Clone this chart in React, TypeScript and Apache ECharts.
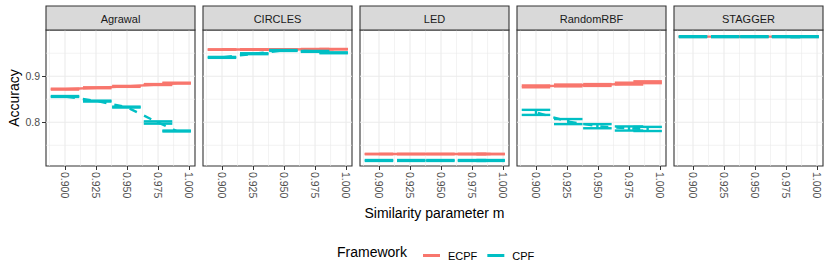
import React, { useEffect, useRef } from "react";
import * as echarts from "echarts";

// ---- data ----
const datasets = ["Agrawal", "CIRCLES", "LED", "RandomRBF", "STAGGER"];
const frameworks = ["ECPF", "CPF"];
const mValues = [0.9, 0.926, 0.9495, 0.975, 0.99];

// mean / lower / upper accuracy per m value
const agrawalEcpfMean = [0.872, 0.875, 0.878, 0.882, 0.885];
const agrawalEcpfLo = [0.871, 0.874, 0.877, 0.881, 0.884];
const agrawalEcpfHi = [0.873, 0.876, 0.879, 0.883, 0.886];
const agrawalCpfMean = [0.856, 0.846, 0.833, 0.7995, 0.781];
const agrawalCpfLo = [0.855, 0.845, 0.832, 0.797, 0.78];
const agrawalCpfHi = [0.857, 0.847, 0.834, 0.802, 0.782];

const circlesEcpfMean = [0.958, 0.958, 0.958, 0.9588, 0.9588];
const circlesEcpfLo = [0.9575, 0.9575, 0.9575, 0.9583, 0.9583];
const circlesEcpfHi = [0.9585, 0.9585, 0.9585, 0.9593, 0.9593];
const circlesCpfMean = [0.941, 0.949, 0.956, 0.954, 0.951];
const circlesCpfLo = [0.94, 0.948, 0.955, 0.953, 0.95];
const circlesCpfHi = [0.942, 0.95, 0.957, 0.955, 0.952];

const ledEcpfMean = [0.731, 0.731, 0.731, 0.731, 0.731];
const ledEcpfLo = [0.7305, 0.7305, 0.7305, 0.7305, 0.7305];
const ledEcpfHi = [0.7315, 0.7315, 0.7315, 0.7315, 0.7315];
const ledCpfMean = [0.717, 0.717, 0.717, 0.717, 0.717];
const ledCpfLo = [0.716, 0.716, 0.716, 0.716, 0.716];
const ledCpfHi = [0.718, 0.718, 0.718, 0.718, 0.718];

const rbfEcpfMean = [0.878, 0.88, 0.881, 0.884, 0.887];
const rbfEcpfLo = [0.876, 0.878, 0.879, 0.882, 0.885];
const rbfEcpfHi = [0.88, 0.882, 0.883, 0.886, 0.889];
const rbfCpfMean = [0.8215, 0.8015, 0.7915, 0.7865, 0.7855];
const rbfCpfLo = [0.816, 0.796, 0.787, 0.782, 0.781];
const rbfCpfHi = [0.827, 0.807, 0.796, 0.791, 0.79];

const staggerEcpfMean = [0.986, 0.986, 0.986, 0.986, 0.986];
const staggerEcpfLo = [0.9855, 0.9855, 0.9855, 0.9855, 0.9855];
const staggerEcpfHi = [0.9865, 0.9865, 0.9865, 0.9865, 0.9865];
const staggerCpfMean = [0.986, 0.986, 0.986, 0.986, 0.986];
const staggerCpfLo = [0.985, 0.985, 0.985, 0.985, 0.985];
const staggerCpfHi = [0.987, 0.987, 0.987, 0.987, 0.987];

const seriesMean = [
  [agrawalEcpfMean, agrawalCpfMean],
  [circlesEcpfMean, circlesCpfMean],
  [ledEcpfMean, ledCpfMean],
  [rbfEcpfMean, rbfCpfMean],
  [staggerEcpfMean, staggerCpfMean],
];
const seriesLo = [
  [agrawalEcpfLo, agrawalCpfLo],
  [circlesEcpfLo, circlesCpfLo],
  [ledEcpfLo, ledCpfLo],
  [rbfEcpfLo, rbfCpfLo],
  [staggerEcpfLo, staggerCpfLo],
];
const seriesHi = [
  [agrawalEcpfHi, agrawalCpfHi],
  [circlesEcpfHi, circlesCpfHi],
  [ledEcpfHi, ledCpfHi],
  [rbfEcpfHi, rbfCpfHi],
  [staggerEcpfHi, staggerCpfHi],
];

const xTicks = [0.9, 0.925, 0.95, 0.975, 1.0];
const xMinorBreaks = [0.8875, 0.9125, 0.9375, 0.9625, 0.9875];
const yTicks = [0.8, 0.9];
const yMinorBreaks = [0.75, 0.85, 0.95];

// ---- style ----
const colors = ["#F8766D", "#00BFC4"];
const lineDash: any[] = ["solid", [8, 8]];
const FONT = "Liberation Sans, Arial, Helvetica, sans-serif";
const PANEL_LEFT = 46;
const PANEL_STEP = 157;
const PANEL_W = 149;
const PANEL_TOP = 30;
const PANEL_H = 136;
const HALF_W = 0.0115;
const X_MIN = 0.8847;
const X_MAX = 1.0048;
const Y_MIN = 0.705;
const Y_MAX = 1.0005;
const LW = 2.4;

export default function App() {
  const ref = useRef<HTMLDivElement>(null);

  useEffect(() => {
    if (!ref.current) return;
    const chart = echarts.init(ref.current, null, { renderer: "svg" });

    const grids: any[] = [];
    const xAxes: any[] = [];
    const yAxes: any[] = [];
    const series: any[] = [];
    const graphics: any[] = [];

    datasets.forEach((name, i) => {
      const left = PANEL_LEFT + PANEL_STEP * i;
      grids.push({
        left,
        top: PANEL_TOP,
        width: PANEL_W,
        height: PANEL_H,
        show: true,
        backgroundColor: "#FFFFFF",
        borderColor: "#333333",
        borderWidth: 1.1,
      });
      xAxes.push({
        type: "value",
        gridIndex: i,
        min: X_MIN,
        max: X_MAX,
        axisLine: { show: false },
        splitLine: { show: false },
        axisTick: {
          show: true,
          customValues: xTicks,
          length: 4,
          lineStyle: { color: "#333333", width: 1 },
        },
        axisLabel: {
          show: true,
          customValues: xTicks,
          rotate: -90,
          margin: 6,
          fontSize: 10.5,
          fontFamily: FONT,
          color: "#4D4D4D",
          formatter: (v: number) => v.toFixed(3),
        },
      });
      yAxes.push({
        type: "value",
        gridIndex: i,
        min: Y_MIN,
        max: Y_MAX,
        axisLine: { show: false },
        splitLine: { show: false },
        axisTick: {
          show: i === 0,
          customValues: yTicks,
          length: 4,
          lineStyle: { color: "#333333", width: 1 },
        },
        axisLabel: {
          show: i === 0,
          customValues: yTicks,
          margin: 6,
          fontSize: 10.5,
          fontFamily: FONT,
          color: "#4D4D4D",
          formatter: (v: number) => v.toFixed(1),
        },
      });

      // grid lines
      const gridData: number[][] = [];
      xMinorBreaks.forEach((v) => gridData.push([v, 0, 0]));
      yMinorBreaks.forEach((v) => gridData.push([v, 1, 0]));
      xTicks.forEach((v) => gridData.push([v, 0, 1]));
      yTicks.forEach((v) => gridData.push([v, 1, 1]));
      series.push({
        type: "custom",
        name: "grid" + i,
        xAxisIndex: i,
        yAxisIndex: i,
        silent: true,
        z: 1,
        encode: { x: -1, y: -1 },
        data: gridData,
        renderItem: (params: any, api: any) => {
          const cs = params.coordSys;
          const v = api.value(0);
          const dir = api.value(1);
          const major = api.value(2);
          const style = {
            stroke: "#EBEBEB",
            lineWidth: major ? 1.1 : 0.6,
          };
          if (dir === 0) {
            const x = api.coord([v, 0.8])[0];
            if (x < cs.x || x > cs.x + cs.width) return null;
            return {
              type: "line",
              shape: { x1: x, y1: cs.y, x2: x, y2: cs.y + cs.height },
              style,
            };
          }
          const y = api.coord([0.9, v])[1];
          if (y < cs.y || y > cs.y + cs.height) return null;
          return {
            type: "line",
            shape: { x1: cs.x, y1: y, x2: cs.x + cs.width, y2: y },
            style,
          };
        },
      });

      frameworks.forEach((fw, f) => {
        const mean = seriesMean[i][f];
        const lo = seriesLo[i][f];
        const hi = seriesHi[i][f];
        // connecting line through the means
        series.push({
          type: "line",
          name: fw,
          xAxisIndex: i,
          yAxisIndex: i,
          z: 2 + f * 2,
          symbol: "none",
          showSymbol: false,
          silent: true,
          itemStyle: { color: colors[f] },
          lineStyle: {
            color: colors[f],
            width: LW,
            type: lineDash[f],
            dashOffset: f === 1 ? -2 : 0,
            cap: "butt",
          },
          data: mValues.map((m, k) => [m, mean[k]]),
        });
        // error bars
        series.push({
          type: "custom",
          name: fw,
          xAxisIndex: i,
          yAxisIndex: i,
          z: 3 + f * 2,
          itemStyle: { color: colors[f] },
          encode: { x: 0, y: [1, 2] },
          data: mValues.map((m, k) => [m, lo[k], hi[k]]),
          renderItem: (params: any, api: any) => {
            const m = api.value(0);
            const l = api.value(1);
            const h = api.value(2);
            const pL1 = api.coord([m - HALF_W, l]);
            const pL2 = api.coord([m + HALF_W, l]);
            const pH1 = api.coord([m - HALF_W, h]);
            const pH2 = api.coord([m + HALF_W, h]);
            const pc1 = api.coord([m, l]);
            const pc2 = api.coord([m, h]);
            const style = { stroke: colors[f], lineWidth: LW, lineCap: "butt" };
            return {
              type: "group",
              children: [
                { type: "line", shape: { x1: pc1[0], y1: pc1[1], x2: pc2[0], y2: pc2[1] }, style },
                { type: "line", shape: { x1: pL1[0], y1: pL1[1], x2: pL2[0], y2: pL2[1] }, style },
                { type: "line", shape: { x1: pH1[0], y1: pH1[1], x2: pH2[0], y2: pH2[1] }, style },
              ],
            };
          },
        });
      });

      // strip
      graphics.push({
        type: "rect",
        shape: { x: left, y: 6, width: PANEL_W, height: PANEL_TOP - 6 },
        style: { fill: "#D9D9D9", stroke: "#333333", lineWidth: 1.1 },
        z: 10,
      });
      graphics.push({
        type: "text",
        x: left + PANEL_W / 2,
        y: 18.5,
        style: {
          text: name,
          textAlign: "center",
          textVerticalAlign: "middle",
          fontSize: 11,
          fontFamily: FONT,
          fill: "#1A1A1A",
        },
        z: 11,
      });
    });

    graphics.push({
      type: "text",
      x: 14,
      y: PANEL_TOP + PANEL_H / 2,
      rotation: Math.PI / 2,
      style: {
        text: "Accuracy",
        textAlign: "center",
        textVerticalAlign: "middle",
        fontSize: 14,
        fontFamily: FONT,
        fill: "#000000",
      },
    });
    graphics.push({
      type: "text",
      x: 434.5,
      y: 213,
      style: {
        text: "Similarity parameter m",
        textAlign: "center",
        textVerticalAlign: "middle",
        fontSize: 14,
        fontFamily: FONT,
        fill: "#000000",
      },
    });
    graphics.push({
      type: "text",
      x: 337,
      y: 252,
      style: {
        text: "Framework",
        textAlign: "left",
        textVerticalAlign: "middle",
        fontSize: 14,
        fontFamily: FONT,
        fill: "#000000",
      },
    });

    chart.setOption({
      animation: false,
      backgroundColor: "#FFFFFF",
      grid: grids,
      xAxis: xAxes,
      yAxis: yAxes,
      series,
      graphic: graphics,
      legend: {
        data: frameworks,
        left: 418,
        top: 245,
        icon: "rect",
        itemWidth: 17,
        itemHeight: 3,
        itemGap: 10,
        selectedMode: false,
        itemStyle: { borderWidth: 0 },
        lineStyle: { width: 0 },
        textStyle: {
          fontSize: 11,
          fontFamily: FONT,
          color: "#000000",
          padding: [0, 0, 0, 3],
        },
      },
    });

    return () => chart.dispose();
  }, []);

  return (
    <div
      ref={ref}
      style={{ position: "absolute", left: 0, top: 0, width: 830, height: 277 }}
    />
  );
}
